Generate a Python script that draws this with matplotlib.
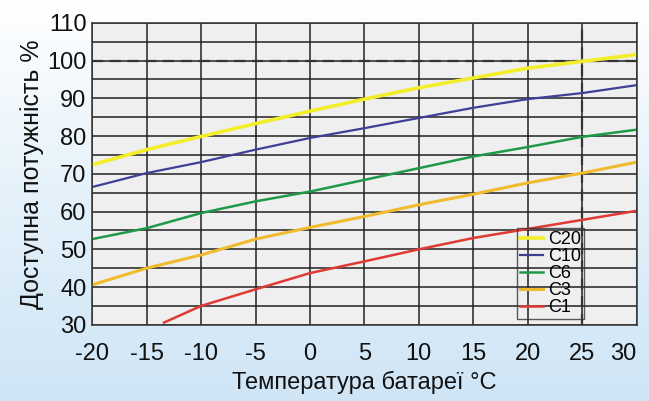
import numpy as np
import matplotlib.pyplot as plt
from matplotlib.colors import LinearSegmentedColormap

# temperature points, degC
temp = [-20, -15, -10, -5, 0, 5, 10, 15, 20, 25, 30]

c20 = [72.4, 76.4, 79.9, 83.3, 86.6, 89.8, 92.8, 95.4, 98.0, 99.8, 101.6]
c10 = [66.5, 70.2, 73.1, 76.4, 79.5, 82.1, 84.8, 87.5, 89.8, 91.4, 93.5]
c6 = [52.7, 55.6, 59.6, 62.7, 65.3, 68.4, 71.5, 74.6, 77.1, 79.8, 81.7]
c3 = [40.6, 45.0, 48.5, 52.7, 55.8, 58.7, 61.8, 64.6, 67.6, 70.2, 73.1]
c1_temp = [-13.4, -10, -5, 0, 5, 10, 15, 20, 25, 30]
c1 = [30.6, 35.0, 39.4, 43.7, 46.8, 50.0, 53.0, 55.4, 57.8, 60.2]

x_ticks = [-20, -15, -10, -5, 0, 5, 10, 15, 20, 25, 30]
y_ticks = [30, 40, 50, 60, 70, 80, 90, 100, 110]

plt.rcParams['font.family'] = ['Liberation Sans', 'DejaVu Sans']

fig = plt.figure(figsize=(6.49, 4.01), dpi=100)

# background gradient: white at top, light blue at bottom
bg = fig.add_axes([0, 0, 1, 1], zorder=-10)
grad = np.linspace(0, 1, 256).reshape(-1, 1)
cmap = LinearSegmentedColormap.from_list('bg', ['#ffffff', '#e4f1fa', '#cfe5f6'])
bg.imshow(grad, aspect='auto', cmap=cmap, extent=[0, 1, 0, 1])
bg.axis('off')

ax = fig.add_axes([0.142, 0.19, 0.839, 0.753])
ax.set_facecolor('#efefef')

ax.plot(temp, c20, color='#f2ee2a', lw=2.6, label='C20')
ax.plot(temp, c10, color='#3f3f98', lw=1.6, label='C10')
ax.plot(temp, c6, color='#1f9a48', lw=1.8, label='C6')
ax.plot(temp, c3, color='#f0bb2e', lw=2.2, label='C3')
ax.plot(c1_temp, c1, color='#df3a34', lw=1.8, label='C1')

ax.axhline(100, color='#333333', lw=1.6, ls=(0, (5, 3)), zorder=1.5)
ax.axvline(25, color='#333333', lw=1.6, ls=(0, (5, 3)), zorder=1.5)

ax.set_xlim(-20, 30)
ax.set_ylim(30, 110)
ax.set_xticks(np.arange(-20, 31, 5))
ax.set_yticks(np.arange(30, 111, 5))
ax.set_xticklabels([str(t) for t in x_ticks])
ax.set_yticklabels([str(v) if v in y_ticks else '' for v in range(30, 111, 5)])
ax.grid(True, color='#222222', lw=1.1)
ax.set_axisbelow(True)
ax.tick_params(axis='both', length=0, labelsize=17, colors='#111111')
ax.tick_params(axis='x', pad=13)
ax.tick_params(axis='y', pad=4)
# last x label sits inside the figure edge
ax.get_xticklabels()[-1].set_horizontalalignment('right')
ax.get_xticklabels()[-1].set_x(30.6)
for s in ax.spines.values():
    s.set_color('#333333')
    s.set_linewidth(1.1)

ax.set_xlabel('Температура батареї °C', fontsize=17, labelpad=4, color='#111111')
ax.set_ylabel('Доступна потужність %', fontsize=18, labelpad=2, color='#111111')

leg = ax.legend(loc='lower left', bbox_to_anchor=(0.78, 0.02), fontsize=13,
                frameon=True, fancybox=False, handlelength=1.3, handletextpad=0.3,
                labelspacing=0.0, borderpad=0.15, borderaxespad=0)
leg.get_frame().set_facecolor('none')
leg.get_frame().set_edgecolor('#333333')

fig.savefig('out.png', dpi=100)
